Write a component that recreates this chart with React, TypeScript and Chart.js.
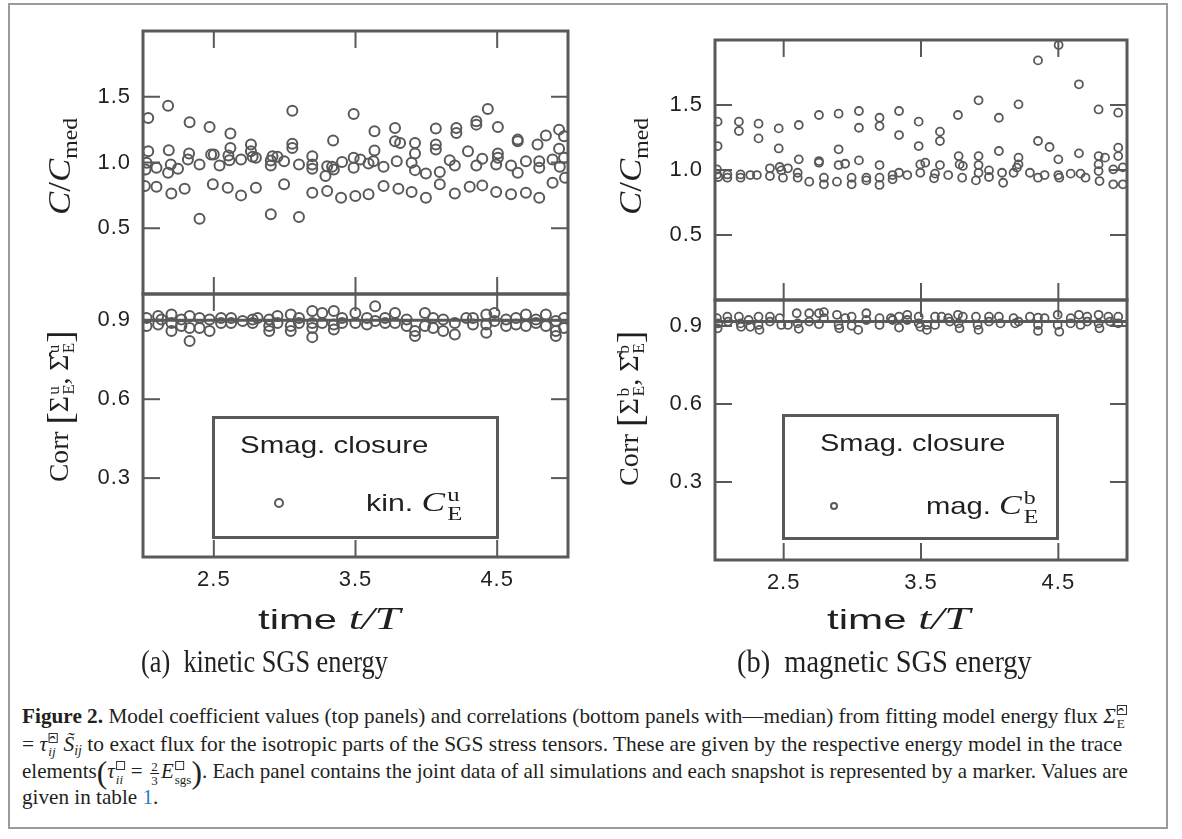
import React, { useEffect, useLayoutEffect, useRef } from "react";
import { Chart, registerables } from "chart.js";

Chart.register(...registerables);

// ---------------- data ----------------
const xMin = 2.0;
const xMax = 5.0;
const xTicks = [2.5, 3.5, 4.5];
const coefTicks = [0.5, 1.0, 1.5];
const corrTicks = [0.3, 0.6, 0.9];
const coefRange = [0, 2];
const corrRange = [0, 1];

// (a) kinetic: C / C_med  [time, value]
const kinCoef: [number, number][] = [
  [2.037, 1.339], [2.037, 1.086], [2.025, 0.998], [2.018, 0.947], [2.013, 0.821],
  [2.095, 0.96], [2.095, 0.816], [2.177, 1.432], [2.182, 1.094], [2.196, 0.985],
  [2.177, 0.922], [2.2, 0.765], [2.247, 0.952], [2.294, 0.801], [2.329, 1.306],
  [2.325, 1.068], [2.317, 1.023], [2.399, 0.985], [2.399, 0.573], [2.47, 1.27],
  [2.481, 1.061], [2.5, 1.061], [2.493, 0.834], [2.54, 0.977], [2.617, 1.22],
  [2.617, 1.111], [2.603, 1.053], [2.61, 1.018], [2.598, 0.808], [2.692, 1.023],
  [2.692, 0.75], [2.762, 1.137], [2.762, 1.086], [2.774, 1.043], [2.797, 1.036],
  [2.797, 0.808], [2.902, 1.015], [2.902, 0.977], [2.914, 1.048], [2.902, 0.606],
  [2.949, 1.043], [2.996, 1.01], [2.996, 0.834], [3.054, 1.394], [3.054, 1.142],
  [3.054, 1.111], [3.101, 0.985], [3.101, 0.586], [3.195, 1.048], [3.195, 0.985],
  [3.195, 0.952], [3.195, 0.77], [3.288, 0.897], [3.3, 0.972], [3.3, 0.783],
  [3.342, 1.167], [3.335, 0.967], [3.347, 0.947], [3.405, 1.003], [3.398, 0.732],
  [3.487, 1.369], [3.487, 1.036], [3.487, 0.96], [3.499, 0.745], [3.534, 1.023],
  [3.592, 0.993], [3.592, 0.758], [3.634, 1.238], [3.634, 1.091], [3.627, 1.01],
  [3.698, 0.967], [3.698, 0.821], [3.779, 1.263], [3.779, 1.162], [3.791, 1.01],
  [3.815, 1.149], [3.803, 0.801], [3.92, 1.149], [3.92, 1.068], [3.896, 0.998],
  [3.92, 0.942], [3.896, 0.775], [3.997, 0.917], [3.997, 0.732], [4.067, 1.258],
  [4.067, 1.137], [4.067, 1.099], [4.095, 0.927], [4.095, 0.834], [4.165, 1.018],
  [4.201, 0.977], [4.212, 1.263], [4.212, 1.225], [4.201, 0.765], [4.294, 1.086],
  [4.353, 1.313], [4.353, 1.288], [4.306, 0.816], [4.353, 0.977], [4.395, 1.028],
  [4.395, 0.826], [4.434, 1.407], [4.505, 1.27], [4.505, 1.068], [4.505, 1.036],
  [4.493, 0.985], [4.493, 0.775], [4.598, 0.977], [4.598, 0.758], [4.645, 1.174],
  [4.645, 1.162], [4.645, 0.922], [4.703, 1.01], [4.703, 0.77], [4.785, 1.137],
  [4.844, 1.205], [4.797, 1.01], [4.797, 0.96], [4.797, 0.732], [4.937, 1.25],
  [4.937, 1.104], [4.891, 1.023], [4.942, 0.967], [4.891, 0.846], [4.972, 1.2],
  [4.979, 0.884], [4.972, 1.036],
];

// (a) kinetic: correlation  [time, value]
const kinCorr: [number, number][] = [
  [2.025, 0.909], [2.025, 0.878], [2.107, 0.916], [2.107, 0.884], [2.13, 0.903],
  [2.201, 0.922], [2.201, 0.89], [2.201, 0.859], [2.271, 0.903], [2.271, 0.878],
  [2.329, 0.916], [2.329, 0.871], [2.329, 0.821], [2.399, 0.909], [2.399, 0.871],
  [2.47, 0.903], [2.47, 0.859], [2.551, 0.909], [2.551, 0.89], [2.622, 0.909],
  [2.622, 0.89], [2.703, 0.897], [2.774, 0.903], [2.774, 0.89], [2.809, 0.909],
  [2.891, 0.903], [2.891, 0.878], [2.891, 0.859], [2.949, 0.916], [2.949, 0.89],
  [3.043, 0.922], [3.043, 0.878], [3.043, 0.859], [3.101, 0.909], [3.101, 0.89],
  [3.195, 0.935], [3.195, 0.89], [3.195, 0.871], [3.195, 0.836], [3.265, 0.928],
  [3.265, 0.89], [3.347, 0.935], [3.347, 0.884], [3.347, 0.865], [3.405, 0.909],
  [3.405, 0.89], [3.499, 0.928], [3.499, 0.89], [3.581, 0.909], [3.581, 0.884],
  [3.639, 0.953], [3.639, 0.897], [3.709, 0.909], [3.709, 0.89], [3.779, 0.928],
  [3.779, 0.89], [3.861, 0.903], [3.861, 0.878], [3.92, 0.859], [3.92, 0.84],
  [3.99, 0.928], [3.99, 0.878], [4.048, 0.909], [4.048, 0.871], [4.119, 0.903],
  [4.119, 0.859], [4.201, 0.89], [4.201, 0.846], [4.282, 0.909], [4.329, 0.909],
  [4.329, 0.884], [4.423, 0.922], [4.423, 0.884], [4.423, 0.853], [4.481, 0.928],
  [4.481, 0.897], [4.563, 0.903], [4.563, 0.878], [4.633, 0.909], [4.633, 0.884],
  [4.703, 0.922], [4.703, 0.878], [4.774, 0.903], [4.774, 0.89], [4.844, 0.922],
  [4.844, 0.878], [4.914, 0.897], [4.914, 0.859], [4.914, 0.84], [4.972, 0.909],
  [4.972, 0.871],
];
const kinCorrMedian = 0.9;

// (b) magnetic: C / C_med  [time, value]
const magCoef: [number, number][] = [
  [2.019, 1.372], [2.019, 1.184], [2.014, 1.005], [2.014, 0.966], [2.024, 0.946],
  [2.09, 0.966], [2.09, 0.941], [2.174, 1.372], [2.174, 1.3], [2.186, 0.966],
  [2.186, 0.941], [2.257, 0.961], [2.317, 1.356], [2.317, 1.243], [2.305, 0.961],
  [2.4, 1.013], [2.4, 0.954], [2.464, 1.32], [2.464, 1.166], [2.471, 1.023],
  [2.483, 0.997], [2.495, 0.941], [2.531, 1.013], [2.61, 1.346], [2.61, 1.082],
  [2.602, 0.979], [2.602, 0.941], [2.686, 0.91], [2.757, 1.423], [2.757, 1.069],
  [2.757, 1.056], [2.793, 0.941], [2.793, 0.89], [2.9, 1.433], [2.9, 1.159],
  [2.9, 1.038], [2.948, 1.048], [2.888, 0.91], [2.995, 0.941], [2.995, 0.89],
  [3.048, 1.454], [3.048, 1.325], [3.048, 1.074], [3.102, 0.941], [3.102, 0.92],
  [3.198, 1.402], [3.198, 1.338], [3.198, 1.038], [3.198, 0.941], [3.198, 0.885],
  [3.293, 0.961], [3.293, 0.928], [3.34, 1.454], [3.34, 1.269], [3.34, 0.979],
  [3.4, 0.961], [3.483, 1.372], [3.483, 1.184], [3.495, 1.043], [3.495, 0.979],
  [3.531, 1.056], [3.595, 0.936], [3.602, 0.972], [3.638, 1.295], [3.638, 1.223],
  [3.638, 1.038], [3.698, 0.961], [3.769, 1.423], [3.774, 1.107], [3.781, 1.043],
  [3.805, 1.031], [3.8, 0.941], [3.9, 0.92], [3.919, 1.536], [3.919, 1.107],
  [3.919, 1.038], [3.919, 0.979], [3.995, 0.997], [3.995, 0.946], [4.067, 1.402],
  [4.067, 1.146], [4.09, 0.979], [4.098, 0.902], [4.174, 0.979], [4.198, 1.018],
  [4.21, 1.505], [4.21, 1.095], [4.21, 1.043], [4.293, 0.979], [4.352, 1.843],
  [4.352, 1.223], [4.352, 0.941], [4.4, 0.961], [4.436, 1.177], [4.502, 1.961],
  [4.5, 1.082], [4.5, 0.961], [4.507, 0.941], [4.59, 0.972], [4.65, 1.659],
  [4.65, 1.128], [4.662, 0.972], [4.698, 0.941], [4.793, 1.466], [4.793, 1.107],
  [4.793, 1.043], [4.793, 0.992], [4.8, 0.915], [4.84, 1.095], [4.9, 1.005],
  [4.9, 0.89], [4.936, 1.441], [4.936, 1.172], [4.936, 1.107], [4.97, 1.02],
  [4.97, 0.89],
];

// (b) magnetic: correlation  [time, value]
const magCorr: [number, number][] = [
  [2.014, 0.93], [2.024, 0.91], [2.019, 0.891], [2.09, 0.936], [2.095, 0.917],
  [2.174, 0.936], [2.186, 0.91], [2.19, 0.897], [2.245, 0.923], [2.257, 0.897],
  [2.317, 0.936], [2.317, 0.904], [2.324, 0.885], [2.4, 0.936], [2.4, 0.917],
  [2.471, 0.93], [2.483, 0.904], [2.531, 0.904], [2.595, 0.949], [2.602, 0.91],
  [2.61, 0.889], [2.686, 0.949], [2.686, 0.917], [2.757, 0.949], [2.757, 0.907],
  [2.793, 0.953], [2.793, 0.93], [2.888, 0.943], [2.9, 0.904], [2.905, 0.891],
  [2.948, 0.93], [2.995, 0.936], [2.995, 0.901], [3.043, 0.885], [3.102, 0.949],
  [3.102, 0.923], [3.198, 0.93], [3.198, 0.904], [3.281, 0.93], [3.293, 0.923],
  [3.34, 0.936], [3.34, 0.894], [3.4, 0.943], [3.4, 0.923], [3.483, 0.936],
  [3.483, 0.91], [3.495, 0.897], [3.543, 0.904], [3.543, 0.885], [3.602, 0.936],
  [3.602, 0.904], [3.65, 0.936], [3.698, 0.93], [3.71, 0.917], [3.769, 0.943],
  [3.774, 0.91], [3.781, 0.891], [3.805, 0.936], [3.9, 0.936], [3.912, 0.904],
  [3.919, 0.885], [3.995, 0.936], [3.995, 0.917], [4.067, 0.936], [4.079, 0.91],
  [4.174, 0.93], [4.186, 0.91], [4.21, 0.917], [4.293, 0.936], [4.352, 0.932],
  [4.352, 0.904], [4.352, 0.881], [4.4, 0.93], [4.495, 0.943], [4.495, 0.904],
  [4.507, 0.878], [4.59, 0.93], [4.59, 0.91], [4.65, 0.943], [4.662, 0.904],
  [4.71, 0.936], [4.71, 0.917], [4.793, 0.943], [4.793, 0.91], [4.8, 0.891],
  [4.864, 0.936], [4.876, 0.917], [4.936, 0.936], [4.936, 0.91],
];
const magCorrMedian = 0.917;

// ---------------- styling ----------------
const INK = "#595959";
const TXT = "#231f20";
const SANS = "'Liberation Sans', Arial, sans-serif";
const SERIF = "'Liberation Serif', 'Times New Roman', serif";

const framePlugin = {
  id: "frame",
  beforeDraw(chart: any) {
    chart.ctx.letterSpacing = "1px";
  },
  afterDatasetsDraw(chart: any) {
    const { ctx, chartArea } = chart;
    const { left, right } = chartArea;
    const xs = chart.scales.x;
    const TL = 17;
    ctx.save();
    ctx.strokeStyle = INK;
    const line = (a: number, b: number, c: number, d: number) => {
      ctx.beginPath();
      ctx.moveTo(a, b);
      ctx.lineTo(c, d);
      ctx.stroke();
    };
    for (const id of ["yTop", "yBot"]) {
      const s = chart.scales[id];
      ctx.lineWidth = 2;
      for (const t of s.ticks) {
        const py = s.getPixelForValue(t.value);
        line(left, py, left + TL, py);
        line(right - TL, py, right, py);
      }
      for (const t of xs.ticks) {
        const px = xs.getPixelForValue(t.value);
        line(px, s.top, px, s.top + TL);
        line(px, s.bottom - TL, px, s.bottom);
      }
      ctx.lineWidth = 3;
      ctx.strokeRect(left, s.top, right - left, s.bottom - s.top);
    }
    ctx.restore();
  },
};

function makeConfig(coef: [number, number][], corr: [number, number][], median: number, r: number, bw: number, yW: number, pad: any) {
  const tickFont = { family: SANS, size: 22 };
  const yScale = (range: number[], ticks: number[]) => ({
    type: "linear",
    position: "left",
    stack: "panel",
    stackWeight: 1,
    min: range[0],
    max: range[1],
    afterBuildTicks: (s: any) => {
      s.ticks = ticks.map((v) => ({ value: v }));
    },
    afterFit: (s: any) => {
      s.width = yW;
    },
    grid: { display: false, drawTicks: false },
    border: { display: false },
    ticks: { font: tickFont, color: TXT, padding: 12, callback: (v: number) => v.toFixed(1) },
  });
  const pts = (arr: [number, number][]) => arr.map(([x, y]) => ({ x, y }));
  const scatterStyle = {
    type: "scatter",
    pointStyle: "circle",
    pointRadius: r,
    pointBorderWidth: bw,
    pointBorderColor: INK,
    pointBackgroundColor: "rgba(0,0,0,0)",
    showLine: false,
  };
  return {
    type: "scatter",
    data: {
      datasets: [
        { ...scatterStyle, data: pts(coef), yAxisID: "yTop" },
        { ...scatterStyle, data: pts(corr), yAxisID: "yBot" },
        {
          type: "line",
          data: [{ x: xMin, y: median }, { x: xMax, y: median }],
          yAxisID: "yBot",
          borderColor: INK,
          borderWidth: 3,
          pointRadius: 0,
        },
      ],
    },
    options: {
      animation: false,
      responsive: false,
      maintainAspectRatio: false,
      events: [],
      layout: { padding: pad },
      plugins: { legend: { display: false }, tooltip: { enabled: false } },
      scales: {
        x: {
          type: "linear",
          position: "bottom",
          min: xMin,
          max: xMax,
          afterBuildTicks: (s: any) => {
            s.ticks = xTicks.map((v) => ({ value: v }));
          },
          afterFit: (s: any) => {
            s.height = 40;
          },
          grid: { display: false, drawTicks: false },
          border: { display: false },
          ticks: { font: tickFont, color: TXT, padding: 10, maxRotation: 0, callback: (v: number) => v.toFixed(1) },
        },
        yBot: yScale(corrRange, corrTicks),
        yTop: yScale(coefRange, coefTicks),
      },
    },
    plugins: [framePlugin],
  };
}

function Panel({ left, width, height, cfg }: any) {
  const ref = useRef<HTMLCanvasElement>(null);
  useEffect(() => {
    const chart = new Chart(ref.current as HTMLCanvasElement, cfg as any);
    return () => chart.destroy();
  }, []);
  return (
    <canvas
      ref={ref}
      width={width}
      height={height}
      style={{ position: "absolute", left, top: 0, width, height }}
    />
  );
}

// Text fitted to a target width (optionally rotated to read bottom-to-top)
function Fit({ x, y, w, rot = false, style, children }: any) {
  const ref = useRef<HTMLDivElement>(null);
  useLayoutEffect(() => {
    const el = ref.current;
    if (!el) return;
    const nat = el.offsetWidth || 1;
    const s = w / nat;
    el.style.transform = rot
      ? `translateY(${w}px) rotate(-90deg) scaleX(${s})`
      : `scaleX(${s})`;
  }, []);
  return (
    <div
      ref={ref}
      style={{
        position: "absolute",
        left: x,
        top: y,
        whiteSpace: "nowrap",
        transformOrigin: "left top",
        lineHeight: 1,
        color: TXT,
        ...style,
      }}
    >
      {children}
    </div>
  );
}

const SS = ({ sup, sub, size = 0.62, it = false }: any) => (
  <span
    style={{
      display: "inline-flex",
      flexDirection: "column",
      verticalAlign: "middle",
      fontSize: `${size}em`,
      lineHeight: 0.95,
      marginLeft: "0.08em",
      fontStyle: it ? "italic" : "normal",
    }}
  >
    <span>{sup}</span>
    <span>{sub}</span>
  </span>
);

const Box = () => (
  <span style={{ display: "inline-block", width: "0.75em", height: "0.75em", border: "1px solid #333", boxSizing: "border-box", verticalAlign: "0.1em" }} />
);

const Frac = ({ n, d }: any) => (
  <span style={{ display: "inline-flex", flexDirection: "column", alignItems: "center", verticalAlign: "middle", fontSize: "0.62em", lineHeight: 1, margin: "0 0.15em" }}>
    <span style={{ borderBottom: "1px solid #231f20", padding: "0 0.1em" }}>{n}</span>
    <span>{d}</span>
  </span>
);

function Legend({ x, y, w, h, tx, mx, my, mr, lx, lw, title, label }: any) {
  return (
    <>
      <div style={{ position: "absolute", left: x, top: y, width: w, height: h, border: `3px solid ${INK}`, boxSizing: "border-box" }} />
      <Fit x={tx} y={y + 17} w={title} style={{ fontFamily: SANS, fontSize: 24 }}>
        Smag. closure
      </Fit>
      <div style={{ position: "absolute", left: mx - mr, top: my - mr, width: 2 * mr, height: 2 * mr, borderRadius: "50%", border: `2px solid ${INK}`, boxSizing: "border-box" }} />
      <Fit x={lx} y={my - 17} w={lw} style={{ fontFamily: SANS, fontSize: 24 }}>
        {label}
      </Fit>
    </>
  );
}

export default function App() {
  const cfgA = makeConfig(kinCoef, kinCorr, kinCorrMedian, 5, 2, 143, { left: 0, top: 31, right: 32, bottom: 23 });
  const cfgB = makeConfig(magCoef, magCorr, magCorrMedian, 4, 1.8, 115, { left: 0, top: 40, right: 33, bottom: 20 });
  const capStyle = { fontFamily: SERIF, fontSize: 21 };
  return (
    <div style={{ position: "absolute", left: 0, top: 0, width: 1182, height: 839, background: "#fff", overflow: "hidden" }}>
      <div style={{ position: "absolute", left: 8, top: 3, width: 1160, height: 826, border: "2px solid #9b9b9b", boxSizing: "border-box" }} />
      <Panel left={0} width={600} height={620} cfg={cfgA} />
      <Panel left={600} width={560} height={620} cfg={cfgB} />

      {/* y-axis titles, panel a */}
      <Fit x={43} y={118} w={97} rot style={{ fontFamily: SERIF, fontSize: 32 }}>
        <i>C</i>/<i>C</i>
        <span style={{ fontSize: "0.68em", verticalAlign: "-0.3em" }}>med</span>
      </Fit>
      <Fit x={42} y={330} w={152} rot style={{ fontFamily: SERIF, fontSize: 27 }}>
        Corr <span style={{ fontSize: "1.35em", verticalAlign: "-0.12em" }}>[</span>Σ<SS sup="u" sub="E" />, Σ̂<SS sup="u" sub="E" />
        <span style={{ fontSize: "1.35em", verticalAlign: "-0.12em" }}>]</span>
      </Fit>

      {/* y-axis titles, panel b */}
      <Fit x={614} y={118} w={97} rot style={{ fontFamily: SERIF, fontSize: 32 }}>
        <i>C</i>/<i>C</i>
        <span style={{ fontSize: "0.68em", verticalAlign: "-0.3em" }}>med</span>
      </Fit>
      <Fit x={612} y={330} w={156} rot style={{ fontFamily: SERIF, fontSize: 27 }}>
        Corr <span style={{ fontSize: "1.35em", verticalAlign: "-0.12em" }}>[</span>Σ<SS sup="b" sub="E" />, Σ̂<SS sup="b" sub="E" />
        <span style={{ fontSize: "1.35em", verticalAlign: "-0.12em" }}>]</span>
      </Fit>

      {/* x-axis titles */}
      <Fit x={258} y={603} w={142} style={{ fontFamily: SANS, fontSize: 28 }}>
        time <span style={{ fontFamily: SERIF, fontStyle: "italic", fontSize: 31 }}>t/T</span>
      </Fit>
      <Fit x={827} y={603} w={143} style={{ fontFamily: SANS, fontSize: 28 }}>
        time <span style={{ fontFamily: SERIF, fontStyle: "italic", fontSize: 31 }}>t/T</span>
      </Fit>

      {/* legends */}
      <Legend
        x={212} y={416} w={287} h={123} tx={240} title={188}
        mx={279} my={503} mr={5} lx={366} lw={96}
        label={<>kin. <span style={{ fontFamily: SERIF, fontStyle: "italic", fontSize: 28 }}>C</span><span style={{ fontFamily: SERIF, fontSize: 28 }}><SS sup="u" sub="E" size={0.7} /></span></>}
      />
      <Legend
        x={782} y={414} w={277} h={126} tx={820} title={185}
        mx={834} my={506} mr={4} lx={926} lw={112}
        label={<>mag. <span style={{ fontFamily: SERIF, fontStyle: "italic", fontSize: 28 }}>C</span><span style={{ fontFamily: SERIF, fontSize: 28 }}><SS sup="b" sub="E" size={0.7} /></span></>}
      />

      {/* sub-captions */}
      <Fit x={141} y={645} w={247} style={{ fontFamily: SERIF, fontSize: 32 }}>
        (a)&nbsp; kinetic SGS energy
      </Fit>
      <Fit x={737} y={645} w={295} style={{ fontFamily: SERIF, fontSize: 32 }}>
        (b)&nbsp; magnetic SGS energy
      </Fit>

      {/* figure caption */}
      <Fit x={22} y={705} w={1105} style={capStyle}>
        <b>Figure 2.</b> Model coefficient values (top panels) and correlations (bottom panels with—median) from fitting model energy flux{" "}
        <i>Σ̂</i>
        <SS sup={<Box />} sub="E" />
      </Fit>
      <Fit x={22} y={733} w={1100} style={capStyle}>
        = <i>τ̂</i>
        <SS sup={<Box />} sub="ij" it />
        <i> S̃</i>
        <span style={{ fontSize: "0.65em", fontStyle: "italic", verticalAlign: "-0.3em" }}>ij</span> to exact flux for the isotropic parts of the SGS stress tensors. These are given by the respective energy model in the trace
      </Fit>
      <Fit x={22} y={757} w={1106} style={capStyle}>
        elements<span style={{ fontSize: "1.5em", verticalAlign: "-0.15em" }}>(</span>
        <i>τ</i>
        <SS sup={<Box />} sub="ii" it /> = <Frac n="2" d="3" />
        <i>E</i>
        <SS sup={<Box />} sub="sgs" />
        <span style={{ fontSize: "1.5em", verticalAlign: "-0.15em" }}>)</span>. Each panel contains the joint data of all simulations and each snapshot is represented by a marker. Values are
      </Fit>
      <Fit x={22} y={787} w={136} style={capStyle}>
        given in table <span style={{ color: "#2b7bbf" }}>1</span>.
      </Fit>
    </div>
  );
}
